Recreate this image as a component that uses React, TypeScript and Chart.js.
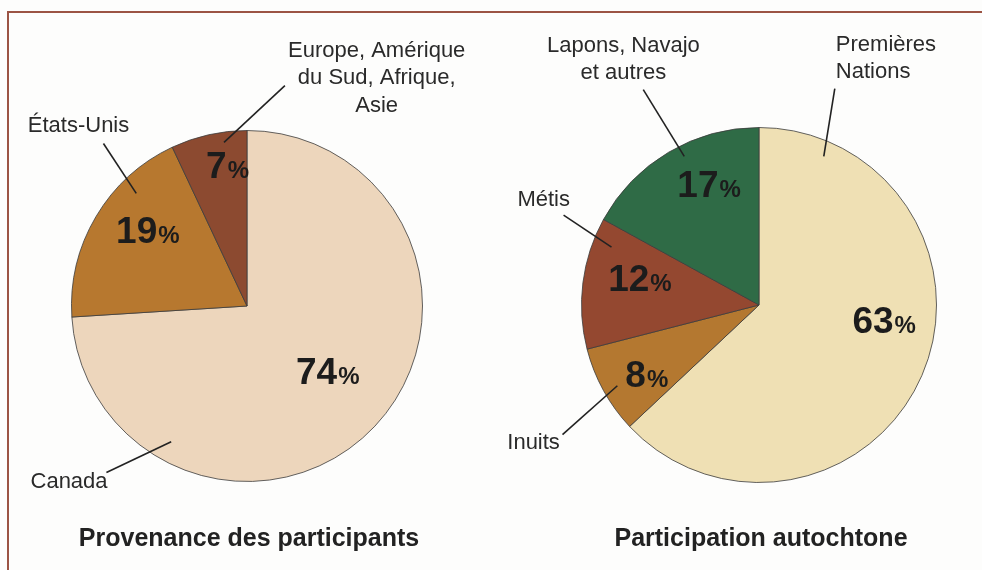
import React, { useEffect, useRef } from "react";
import { Chart, registerables } from "chart.js";

Chart.register(...registerables);

// ---------- DATA ----------
const provenanceLabels = ["Canada", "États-Unis", "Europe, Amérique du Sud, Afrique, Asie"];
const provenanceValues = [74, 19, 7];
const provenanceColors = ["#EDD6BC", "#B7782F", "#8C4A30"];

const autochtoneLabels = ["Premières Nations", "Inuits", "Métis", "Lapons, Navajo et autres"];
const autochtoneValues = [63, 8, 12, 17];
const autochtoneColors = ["#EFE0B4", "#B47830", "#944830", "#2F6B46"];

const chartTitles = ["Provenance des participants", "Participation autochtone"];

// ---------- LABEL PLACEMENT (relative to pie centre, in units of radius) ----------
type Callout = {
  lines: string[];
  tx: number;
  ty: number;
  align: CanvasTextAlign;
  from: [number, number];
  to: [number, number];
};

const provenancePct: [number, number][] = [
  [0.46, 0.369],
  [-0.565, -0.438],
  [-0.111, -0.807],
];
const provenanceCallouts: Callout[] = [
  { lines: ["Canada"], tx: -1.014, ty: 1.0, align: "center", from: [-0.801, 0.949], to: [-0.432, 0.773] },
  { lines: ["États-Unis"], tx: -0.96, ty: -1.028, align: "center", from: [-0.818, -0.926], to: [-0.631, -0.642] },
  {
    lines: ["Europe, Amérique", "du Sud, Afrique,", "Asie"],
    tx: 0.739,
    ty: -1.455,
    align: "center",
    from: [0.216, -1.256],
    to: [-0.131, -0.932],
  },
];

const autochtonePct: [number, number][] = [
  [0.705, 0.079],
  [-0.632, 0.385],
  [-0.671, -0.157],
  [-0.281, -0.685],
];
const autochtoneCallouts: Callout[] = [
  { lines: ["Premières", "Nations"], tx: 0.433, ty: -1.466, align: "left", from: [0.427, -1.219], to: [0.365, -0.837] },
  { lines: ["Inuits"], tx: -1.27, ty: 0.775, align: "center", from: [-1.107, 0.73], to: [-0.798, 0.455] },
  { lines: ["Métis"], tx: -1.213, ty: -0.59, align: "center", from: [-1.101, -0.506], to: [-0.831, -0.326] },
  {
    lines: ["Lapons, Navajo", "et autres"],
    tx: -0.764,
    ty: -1.461,
    align: "center",
    from: [-0.652, -1.213],
    to: [-0.421, -0.837],
  },
];

const FONT = '"Liberation Sans", Arial, Helvetica, sans-serif';

function makeLabelPlugin(pct: [number, number][], callouts: Callout[], title: string) {
  return {
    id: "pieLabels",
    afterDraw(chart: any) {
      const meta = chart.getDatasetMeta(0);
      const arc0 = meta.data[0];
      if (!arc0) return;
      const cx = arc0.x;
      const cy = arc0.y;
      const R = arc0.outerRadius;
      const values = chart.data.datasets[0].data as number[];
      const ctx: CanvasRenderingContext2D = chart.ctx;
      ctx.save();

      // percentages inside slices
      values.forEach((v, i) => {
        const [dx, dy] = pct[i];
        const x = cx + dx * R;
        const y = cy + dy * R;
        const num = String(v);
        ctx.font = `bold 37px ${FONT}`;
        const wNum = ctx.measureText(num).width;
        ctx.font = `bold 24px ${FONT}`;
        const wPct = ctx.measureText("%").width;
        const total = wNum + 1 + wPct;
        const left = x - total / 2;
        const base = y + 13.5;
        ctx.fillStyle = "#1c1c1c";
        ctx.textAlign = "left";
        ctx.textBaseline = "alphabetic";
        ctx.font = `bold 37px ${FONT}`;
        ctx.fillText(num, left, base);
        ctx.font = `bold 24px ${FONT}`;
        ctx.fillText("%", left + wNum + 1, base);
      });

      // callouts
      callouts.forEach((c) => {
        ctx.strokeStyle = "#222";
        ctx.lineWidth = 1.6;
        ctx.beginPath();
        ctx.moveTo(cx + c.from[0] * R, cy + c.from[1] * R);
        ctx.lineTo(cx + c.to[0] * R, cy + c.to[1] * R);
        ctx.stroke();
        ctx.font = `22px ${FONT}`;
        ctx.fillStyle = "#2a2a2a";
        ctx.textAlign = c.align;
        ctx.textBaseline = "middle";
        c.lines.forEach((ln, k) => {
          ctx.fillText(ln, cx + c.tx * R, cy + c.ty * R + k * 27.5);
        });
      });

      // title
      ctx.font = `bold 25px ${FONT}`;
      ctx.fillStyle = "#222";
      ctx.textAlign = "center";
      ctx.textBaseline = "middle";
      ctx.fillText(title, cx + 2, chart.height - 31);
      ctx.restore();
    },
  };
}

function PieCanvas(props: {
  labels: string[];
  values: number[];
  colors: string[];
  pct: [number, number][];
  callouts: Callout[];
  title: string;
  padding: { left: number; right: number; top: number; bottom: number };
  left: number;
}) {
  const ref = useRef<HTMLCanvasElement | null>(null);
  useEffect(() => {
    if (!ref.current) return;
    const chart = new Chart(ref.current, {
      type: "pie",
      data: {
        labels: props.labels,
        datasets: [
          {
            data: props.values,
            backgroundColor: props.colors,
            borderColor: "rgba(60,60,60,0.8)",
            borderWidth: 1,
          },
        ],
      },
      options: {
        animation: false,
        responsive: false,
        maintainAspectRatio: false,
        layout: { padding: props.padding },
        plugins: {
          legend: { display: false },
          tooltip: { enabled: false },
          title: { display: false },
        },
      },
      plugins: [makeLabelPlugin(props.pct, props.callouts, props.title)],
    });
    return () => chart.destroy();
  }, []);
  return (
    <canvas
      ref={ref}
      width={491}
      height={570}
      style={{ position: "absolute", left: props.left, top: 0, width: 491, height: 570 }}
    />
  );
}

export default function App() {
  return (
    <div
      style={{
        position: "fixed",
        left: 0,
        top: 0,
        width: 982,
        height: 570,
        background: "#FDFDFC",
        overflow: "hidden",
      }}
    >
      <div style={{ position: "absolute", left: 7, top: 11, width: 975, height: 2, background: "#9C5444" }} />
      <div style={{ position: "absolute", left: 7, top: 11, width: 2, height: 559, background: "#9C5444" }} />
      <PieCanvas
        labels={provenanceLabels}
        values={provenanceValues}
        colors={provenanceColors}
        pct={provenancePct}
        callouts={provenanceCallouts}
        title={chartTitles[0]}
        padding={{ left: 71, right: 68, top: 130, bottom: 88 }}
        left={0}
      />
      <PieCanvas
        labels={autochtoneLabels}
        values={autochtoneValues}
        colors={autochtoneColors}
        pct={autochtonePct}
        callouts={autochtoneCallouts}
        title={chartTitles[1]}
        padding={{ left: 90, right: 45, top: 127, bottom: 87 }}
        left={491}
      />
    </div>
  );
}
